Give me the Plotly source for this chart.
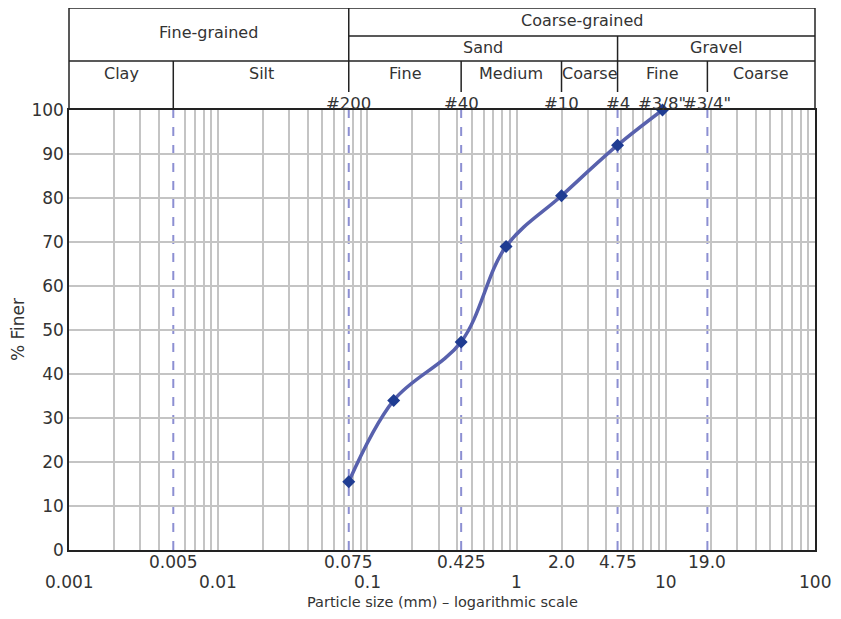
import math
import plotly.graph_objects as go

# ---- data ----
sizes_mm = [0.075, 0.15, 0.425, 0.85, 2.0, 4.75, 9.5]
pct_finer = [15.5, 34.0, 47.3, 69.0, 80.5, 92.0, 100.0]

dashed_sizes = [0.005, 0.075, 0.425, 4.75, 19.0]
row1_vals = [0.005, 0.075, 0.425, 2.0, 4.75, 19.0]
row1_text = ["0.005", "0.075", "0.425", "2.0", "4.75", "19.0"]
row2_vals = [0.001, 0.01, 0.1, 1, 10, 100]
row2_text = ["0.001", "0.01", "0.1", "1", "10", "100"]
sieve_vals = [0.075, 0.425, 2.0, 4.75, 9.5, 19.0]
sieve_text = ["#200", "#40", "#10", "#4", "#3/8\"", "#3/4\""]
y_ticks = list(range(0, 101, 10))

FONT = "DejaVu Sans"
TXT = "#333333"
OFF = 8  # page body margin
# plot area in page pixels
PL, PR, PT, PB = 69, 815, 110, 550
W, H = 825, 603
ML = PL - OFF
MT = PT - OFF
MR = OFF + W - PR
MB = OFF + H - PB
PW = PR - PL
PH = PB - PT


def px(v):
    return (math.log10(v) + 3) / 5.0


def py(ypix):
    return (PB - ypix) / PH


grid_vals = [k * 10 ** e for e in range(-3, 2) for k in range(1, 10)] + [100]
grid_vals = [g for g in grid_vals if all(abs(math.log10(g / d)) > 1e-6 for d in dashed_sizes)]

fig = go.Figure()
fig.add_trace(go.Scatter(
    x=sizes_mm, y=pct_finer, mode="lines+markers",
    line=dict(color="#5861ad", width=3.5, shape="spline", smoothing=1.0),
    marker=dict(symbol="diamond", size=10, color="#1f3c92"),
    showlegend=False, cliponaxis=False,
))

shapes = []
for v in dashed_sizes:
    shapes.append(dict(type="line", xref="x", yref="y", x0=v, x1=v, y0=0, y1=100,
                       line=dict(color="#8c8fd2", width=2, dash="dash"), layer="below"))

blk = dict(color="#222222", width=1.5)
Y8, Y36, Y61, Y92 = py(8), py(36), py(61), py(92)
hdr = [
    (0, Y8, 1, Y8),
    (0, Y8, 0, 1),
    (1, Y8, 1, 1),
    (px(0.075), Y36, 1, Y36),
    (0, Y61, 1, Y61),
    (px(0.075), Y8, px(0.075), Y92),
    (px(0.005), Y61, px(0.005), 1),
    (px(0.425), Y61, px(0.425), Y92),
    (px(2.0), Y61, px(2.0), Y92),
    (px(4.75), Y36, px(4.75), Y92),
    (px(19.0), Y61, px(19.0), Y92),
]
for x0, y0, x1, y1 in hdr:
    shapes.append(dict(type="line", xref="paper", yref="paper", x0=x0, x1=x1, y0=y0, y1=y1,
                       line=blk))

ann = []


def text(x, y, s, size=16, **kw):
    d = dict(x=x, y=y, xref="paper", yref="paper", text=s, showarrow=False,
             font=dict(family=FONT, size=size, color=TXT), xanchor="center", yanchor="middle")
    d.update(kw)
    ann.append(d)


def mid(a, b):
    return (px(a) + px(b)) / 2


text(mid(0.001, 0.075), py(32), "Fine-grained")
text(mid(0.075, 100), py(21), "Coarse-grained")
text(mid(0.075, 4.75), py(47), "Sand")
text(mid(4.75, 100), py(47), "Gravel")
text(mid(0.001, 0.005), py(73), "Clay")
text(mid(0.005, 0.075), py(73), "Silt")
text(mid(0.075, 0.425), py(73), "Fine")
text(mid(0.425, 2.0), py(73), "Medium")
text(mid(2.0, 4.75), py(73), "Coarse")
text(mid(4.75, 19.0), py(73), "Fine")
text(mid(19.0, 100), py(73), "Coarse")
for v, s in zip(sieve_vals, sieve_text):
    text(px(v), py(103), s, size=16.5)
for v, s in zip(row1_vals, row1_text):
    text(px(v), py(562), s, size=17)
for v, s in zip(row2_vals, row2_text):
    text(px(v), py(582), s, size=17)
text(0.5, py(602), "Particle size (mm) – logarithmic scale", size=14.5)
text((18 - PL) / PW, 0.5, "% Finer", size=17, textangle=-90)

fig.update_layout(
    width=W, height=H, margin=dict(l=ML, r=MR, t=MT, b=MB),
    plot_bgcolor="white", paper_bgcolor="white",
    shapes=shapes, annotations=ann,
    xaxis=dict(type="log", range=[-3, 2], tickvals=grid_vals, showticklabels=False,
               showgrid=True, gridcolor="#c4c4c4", gridwidth=1.5, ticks="",
               showline=True, linecolor="#222222", linewidth=1.5, mirror=True, zeroline=False),
    yaxis=dict(range=[0, 100], tickvals=y_ticks, showgrid=True, gridcolor="#c4c4c4",
               gridwidth=1.5, ticks="", showline=True, linecolor="#222222", linewidth=1.5,
               mirror=True, zeroline=False, tickfont=dict(family=FONT, size=17, color=TXT)),
    font=dict(family=FONT, color=TXT),
)

fig.write_html("out.html")
